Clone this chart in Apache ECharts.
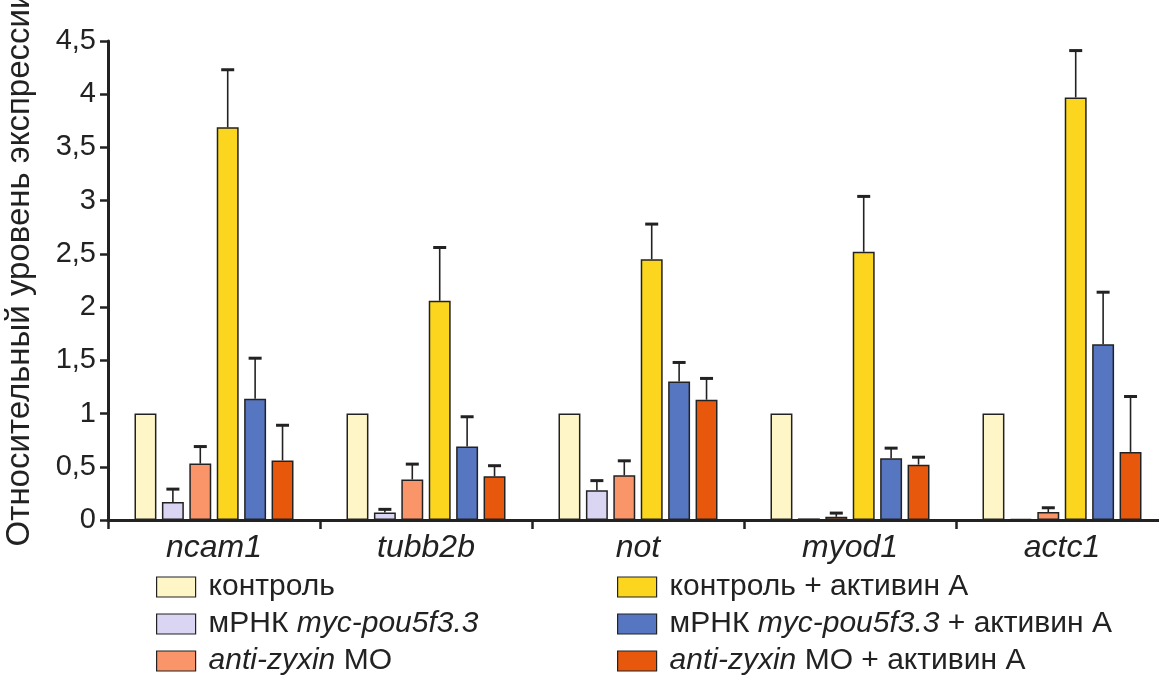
<!DOCTYPE html>
<html>
<head>
<meta charset="utf-8">
<script src="https://cdn.jsdelivr.net/npm/echarts@6/dist/echarts.min.js"></script>
<style>
html,body{margin:0;padding:0;background:#fff;}
#chart{width:1159px;height:675px;}
</style>
</head>
<body>
<div id="chart"></div>
<script>
var categories = ['ncam1', 'tubb2b', 'not', 'myod1', 'actc1'];
var seriesNames = ['контроль', 'мРНК myc-pou5f3.3', 'anti-zyxin МО', 'контроль + активин А', 'мРНК myc-pou5f3.3 + активин А', 'anti-zyxin МО + активин А'];
var control     = [1, 1, 1, 1, 1];
var myc         = [0.17, 0.07, 0.28, 0.015, 0.01];
var mo          = [0.53, 0.38, 0.42, 0.03, 0.075];
var actA        = [3.69, 2.06, 2.45, 2.52, 3.97];
var mycAct      = [1.14, 0.69, 1.30, 0.58, 1.65];
var moAct       = [0.56, 0.41, 1.13, 0.52, 0.64];
var controlErr  = [0, 0, 0, 0, 0];
var mycErr      = [0.12, 0.03, 0.09, 0, 0];
var moErr       = [0.16, 0.145, 0.136, 0.035, 0.04];
var actAErr     = [0.54, 0.50, 0.33, 0.52, 0.44];
var mycActErr   = [0.38, 0.28, 0.18, 0.095, 0.49];
var moActErr    = [0.33, 0.10, 0.20, 0.07, 0.52];
var yTicks = [0, 0.5, 1, 1.5, 2, 2.5, 3, 3.5, 4, 4.5];

var colors = ['#FFF6C8', '#D9D5F2', '#FA956A', '#FCD61E', '#5776C2', '#E8580C'];
var values = [control, myc, mo, actA, mycAct, moAct];
var errs = [controlErr, mycErr, moErr, actAErr, mycActErr, moActErr];

var CAT_GAP = 0.25, BAR_GAP = 0.25, N = 6;
var FONT = "'Liberation Sans', Arial, sans-serif";

var series = [];
values.forEach(function (vals, i) {
  series.push({
    name: seriesNames[i],
    type: 'bar',
    data: vals,
    barGap: (BAR_GAP * 100) + '%',
    barCategoryGap: (CAT_GAP * 100) + '%',
    itemStyle: { color: colors[i], borderColor: '#222', borderWidth: 1.5 },
    z: 2
  });
});
values.forEach(function (vals, i) {
  var data = vals.map(function (v, k) { return [k, v, v + errs[i][k], errs[i][k]]; });
  series.push({
    type: 'custom',
    name: 'err' + i,
    data: data,
    z: 3,
    silent: true,
    renderItem: function (params, api) {
      var k = api.value(0), v = api.value(1), top = api.value(2), e = api.value(3);
      if (!(e > 0)) return null;
      var band = api.size([1, 0])[0];
      var bw = band * (1 - CAT_GAP) / (N + (N - 1) * BAR_GAP);
      var c0 = api.coord([k, v]);
      var c1 = api.coord([k, top]);
      var x = c0[0] - band * (1 - CAT_GAP) / 2 + bw / 2 + i * bw * (1 + BAR_GAP);
      var hw = 6.5;
      return {
        type: 'group',
        children: [
          { type: 'line', shape: { x1: x, y1: c0[1], x2: x, y2: c1[1] }, style: { stroke: '#222', lineWidth: 1.6 } },
          { type: 'line', shape: { x1: x - hw, y1: c1[1], x2: x + hw, y2: c1[1] }, style: { stroke: '#222', lineWidth: 3 } }
        ]
      };
    }
  });
});

function legendFmt(name) {
  return name.replace('myc-pou5f3.3', '{i|myc-pou5f3.3}').replace('anti-zyxin', '{i|anti-zyxin}');
}
var legendText = {
  fontSize: 30, color: '#222', fontFamily: FONT, lineHeight: 30, padding: [0, 0, 0, 8],
  rich: { i: { fontSize: 30, fontStyle: 'italic', color: '#222', fontFamily: FONT, lineHeight: 30 } }
};
function makeLegend(names, left) {
  return {
    data: names,
    orient: 'vertical',
    left: left,
    top: 572,
    height: 130,
    itemWidth: 39,
    itemHeight: 20,
    itemGap: 7,
    icon: 'rect',
    selectedMode: false,
    padding: 0,
    itemStyle: { borderColor: '#222', borderWidth: 1.2 },
    textStyle: legendText,
    formatter: legendFmt
  };
}

var chart = echarts.init(document.getElementById('chart'), null, { renderer: 'canvas' });
chart.setOption({
  animation: false,
  backgroundColor: '#fff',
  grid: { left: 108, top: 41, width: 1060, height: 479, containLabel: false, outerBoundsMode: 'none' },
  legend: [makeLegend(seriesNames.slice(0, 3), 156), makeLegend(seriesNames.slice(3), 617)],
  xAxis: {
    type: 'category',
    data: categories,
    axisLine: { lineStyle: { color: '#222', width: 3 } },
    axisTick: { show: true, length: 9, lineStyle: { color: '#222', width: 2.5 } },
    axisLabel: { fontSize: 32, fontStyle: 'italic', color: '#222', fontFamily: FONT, margin: 12 }
  },
  yAxis: {
    type: 'value',
    min: yTicks[0],
    max: yTicks[yTicks.length - 1],
    interval: 0.5,
    name: 'Относительный уровень экспрессии',
    nameLocation: 'middle',
    nameGap: 72,
    nameTextStyle: { fontSize: 33, color: '#222', fontFamily: FONT, padding: [0, 0, 0, 24] },
    splitLine: { show: false },
    axisLine: { show: true, lineStyle: { color: '#222', width: 3 } },
    axisTick: { show: true, length: 8, lineStyle: { color: '#222', width: 2.5 } },
    axisLabel: {
      fontSize: 29, color: '#222', fontFamily: FONT, margin: 12,
      formatter: function (v) { return String(v).replace('.', ','); }
    }
  },
  series: series
});
</script>
</body>
</html>
